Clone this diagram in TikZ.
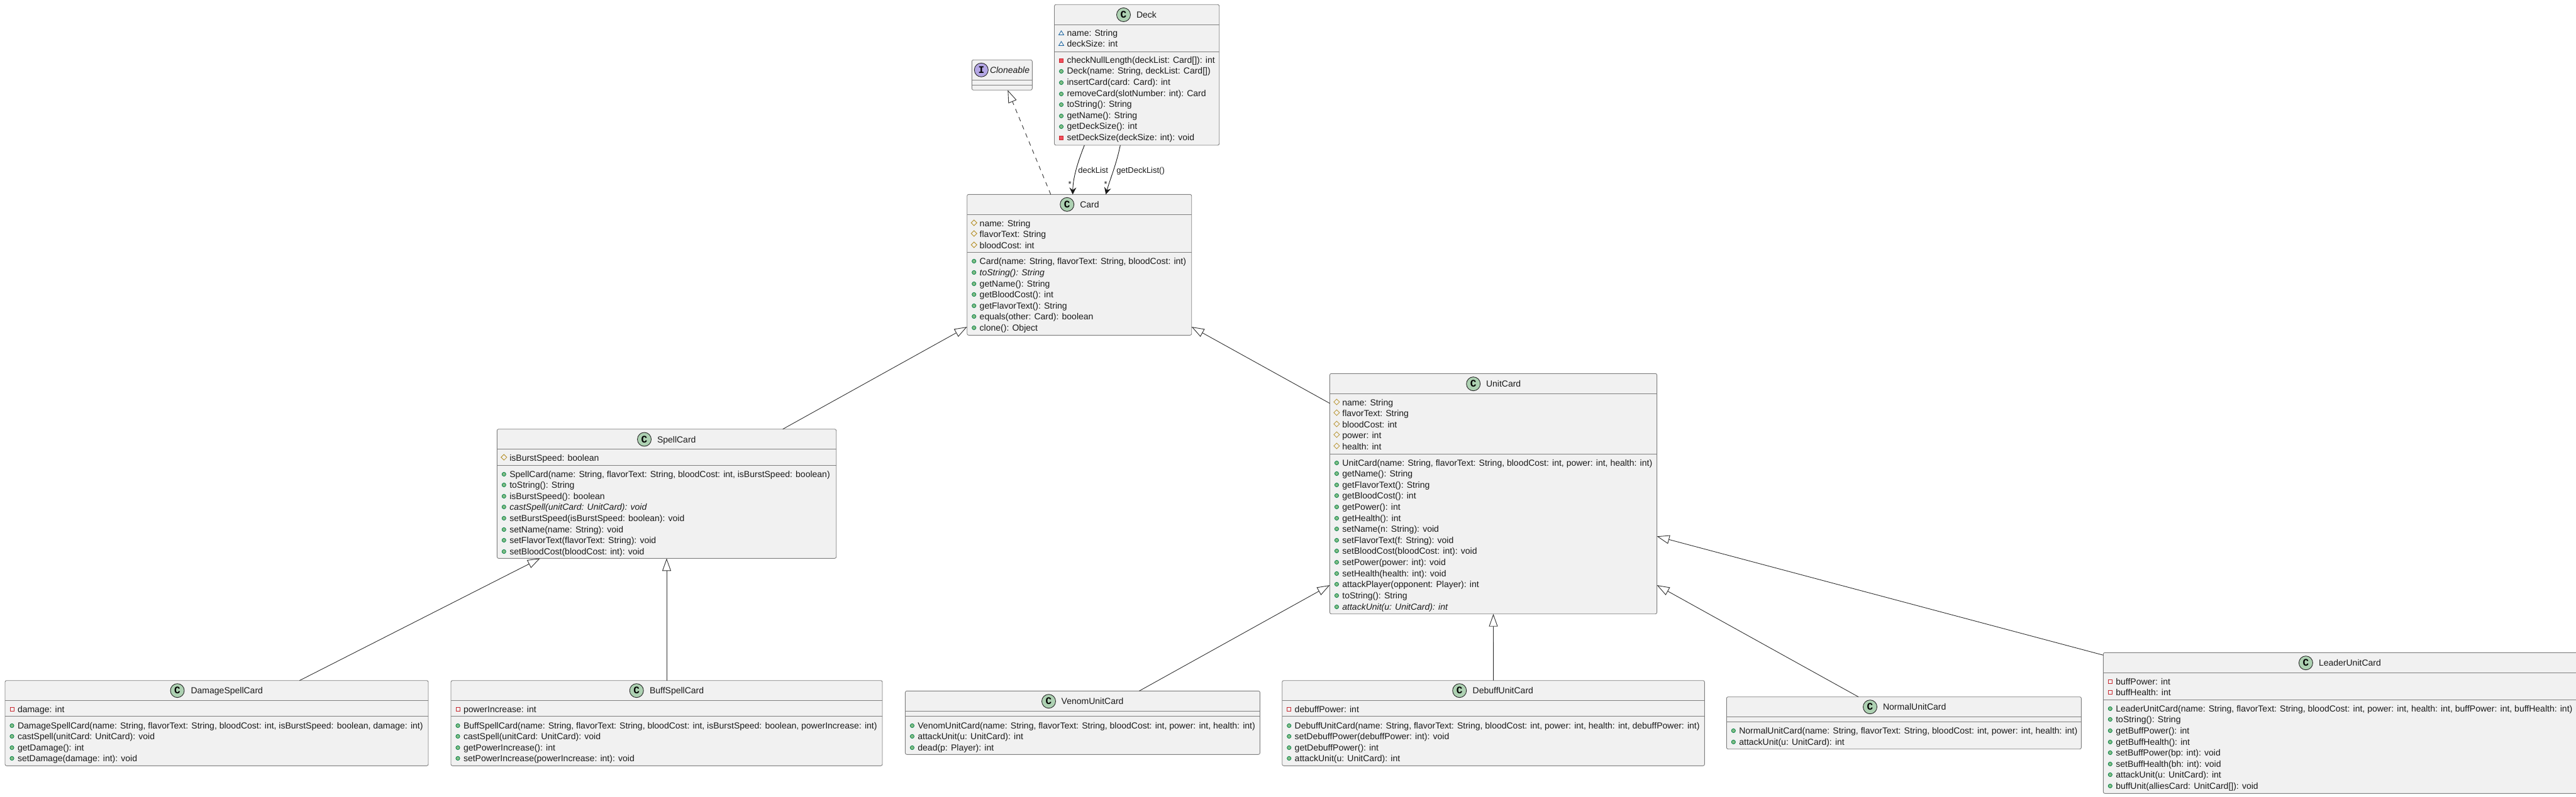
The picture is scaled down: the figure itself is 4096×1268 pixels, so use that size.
\documentclass[tikz,border=0pt]{standalone}
\usepackage{fontspec}
\setmainfont{Liberation Sans}
\setmonofont{Liberation Mono}
\usetikzlibrary{arrows.meta,shapes.geometric}
\definecolor{boxfill}{HTML}{F1F1F1}
\definecolor{boxline}{HTML}{7F7F7F}
\definecolor{wire}{HTML}{303030}
\definecolor{spot}{HTML}{ADD1B2}
\definecolor{ispot}{HTML}{B4A7E5}
\definecolor{pubf}{HTML}{84BE84}
\definecolor{publ}{HTML}{038048}
\definecolor{protl}{HTML}{B38D22}
\definecolor{privl}{HTML}{C82930}
\definecolor{privf}{HTML}{F24D5C}
\definecolor{pkgl}{HTML}{1963A0}
\tikzset{
  x=1pt,y=-1pt,
  classbox/.style={draw=boxline,fill=boxfill,line width=0.9pt,rounded corners=2.5pt,inner sep=0pt,outer sep=0pt},
  sepline/.style={draw=boxline,line width=0.9pt},
  rowtext/.style={anchor=base west,inner sep=0pt,outer sep=0pt,text=black!90,font=\fontsize{14}{14}\selectfont},
  wirelabel/.style={anchor=base west,inner sep=0pt,outer sep=0pt,text=black!90,font=\fontsize{13}{13}\selectfont},
  spotc/.style={draw=black!85,line width=0.9pt,fill=spot},
  extends/.style={draw=wire,line width=0.9pt,-{Triangle[open,fill=white,length=20pt,width=14pt]}},
  realizes/.style={extends,dash pattern=on 7pt off 7pt},
  assoc/.style={draw=black!90,line width=0.9pt,-{Stealth[length=11pt,width=11pt,inset=4pt]}},
}
\newcounter{rowc}
\newcommand{\cbox}[8]{% name,x1,y1,x2,y2,hy,sy,spot colour
  \pgfmathsetmacro{\bw}{#4-#2}\pgfmathsetmacro{\bh}{#5-#3}
  \pgfmathsetmacro{\bx}{(#2+#4)/2}\pgfmathsetmacro{\by}{(#3+#5)/2}
  \node[classbox,minimum width=\bw pt,minimum height=\bh pt] (#1) at (\bx,\by) {};
  \draw[sepline] (#2,#6) -- (#4,#6);
  \draw[sepline] (#2,#7) -- (#4,#7);
  \gdef\curx{#2}}
\newcommand{\ctitle}[4]{% icon x, y, title x, title
  \draw[spotc] (#1,#2) circle (11);
  \stepcounter{rowc}\node[inner sep=0pt,font=\fontsize{16}{16}\selectfont\ttfamily\bfseries] (row\therowc) at (#1,#2) {C};
  \pgfmathsetmacro{\by}{#2+5}
  \stepcounter{rowc}\node[rowtext] (row\therowc) at (#3,\by) {#4};}
\newcommand{\rowt}[2]{% y, text
  \pgfmathsetmacro{\tx}{\curx+20}\pgfmathsetmacro{\by}{#1+5}
  \stepcounter{rowc}\node[rowtext] (row\therowc) at (\tx,\by) {#2};}
\newcommand{\pub}[2]{\pgfmathsetmacro{\ix}{\curx+11}
  \draw[draw=publ,fill=pubf,line width=0.8pt] (\ix,#1+0.5) circle (3.1);\rowt{#1}{#2}}
\newcommand{\prot}[2]{\pgfmathsetmacro{\ix}{\curx+11}
  \draw[draw=protl,line width=0.8pt] (\ix-4.5,#1-0.5) -- (\ix,#1-5) -- (\ix+4.5,#1-0.5) -- (\ix,#1+4) -- cycle;\rowt{#1}{#2}}
\newcommand{\privf}[2]{\pgfmathsetmacro{\ix}{\curx+11}
  \draw[draw=privl,line width=0.8pt] (\ix-3,#1-3) rectangle (\ix+3,#1+3);\rowt{#1}{#2}}
\newcommand{\privm}[2]{\pgfmathsetmacro{\ix}{\curx+11}
  \draw[draw=privl,fill=privf,line width=0.8pt] (\ix-3,#1-3) rectangle (\ix+3,#1+3);\rowt{#1}{#2}}
\newcommand{\pkg}[2]{\pgfmathsetmacro{\ix}{\curx+11}
  \draw[draw=pkgl,line width=0.8pt] (\ix-4,#1+2.5) -- (\ix,#1-4) -- (\ix+4,#1+2.5) -- cycle;\rowt{#1}{#2}}
\begin{document}
\begin{tikzpicture}
\useasboundingbox (0,0) rectangle (4096,1268);
\clip (0,0) rectangle (4096,1268);

% Cloneable
\cbox{cloneable}{1545.3}{95.3}{1641.3}{143.3}{127.3}{135.3}{ispot}
\draw[spotc,fill=ispot] (1560.3,111.3) circle (11);
\node[inner sep=0pt,font=\fontsize{16}{16}\selectfont\ttfamily\bfseries] (cloneI) at (1560.3,111.3) {I};
\node[rowtext,font=\fontsize{14}{14}\selectfont\itshape] (cloneT) at (1574,117) {Cloneable};

% Deck
\cbox{deck}{1676.5}{7.3}{1938.7}{231}{39.5}{82}{spot}
\ctitle{1786.5}{23.5}{1807}{Deck}
\pkg{53}{name: String}
\pkg{70}{deckSize: int}
\privm{96}{checkNullLength(deckList: Card[]): int}
\pub{113}{Deck(name: String, deckList: Card[])}
\pub{131}{insertCard(card: Card): int}
\pub{149}{removeCard(slotNumber: int): Card}
\pub{166}{toString(): String}
\pub{184}{getName(): String}
\pub{201}{getDeckSize(): int}
\privm{219}{setDeckSize(deckSize: int): void}

% Card
\cbox{card}{1537.7}{309.3}{1894.7}{533.3}{341.3}{401.3}{spot}
\ctitle{1696.7}{325.3}{1717.3}{Card}
\prot{355}{name: String}
\prot{372}{flavorText: String}
\prot{390}{bloodCost: int}
\pub{415}{Card(name: String, flavorText: String, bloodCost: int)}
\pub{433}{\itshape toString(): String}
\pub{451}{getName(): String}
\pub{468}{getBloodCost(): int}
\pub{486}{getFlavorText(): String}
\pub{503}{equals(other: Card): boolean}
\pub{521}{clone(): Object}

% SpellCard
\cbox{spell}{790.3}{682.7}{1329.7}{888.3}{714.3}{740.7}{spot}
\ctitle{1024.5}{699}{1045}{SpellCard}
\prot{728}{isBurstSpeed: boolean}
\pub{754}{SpellCard(name: String, flavorText: String, bloodCost: int, isBurstSpeed: boolean)}
\pub{771}{toString(): String}
\pub{789}{isBurstSpeed(): boolean}
\pub{806}{\itshape castSpell(unitCard: UnitCard): void}
\pub{824}{setBurstSpeed(isBurstSpeed: boolean): void}
\pub{842}{setName(name: String): void}
\pub{859}{setFlavorText(flavorText: String): void}
\pub{877}{setBloodCost(bloodCost: int): void}

% UnitCard
\cbox{unit}{2114.4}{594.3}{2634.6}{976.7}{626.3}{722.3}{spot}
\ctitle{2342.7}{610.7}{2363}{UnitCard}
\prot{640}{name: String}
\prot{657}{flavorText: String}
\prot{675}{bloodCost: int}
\prot{692}{power: int}
\prot{710}{health: int}
\pub{736}{UnitCard(name: String, flavorText: String, bloodCost: int, power: int, health: int)}
\pub{753}{getName(): String}
\pub{771}{getFlavorText(): String}
\pub{788}{getBloodCost(): int}
\pub{806}{getPower(): int}
\pub{824}{getHealth(): int}
\pub{841}{setName(n: String): void}
\pub{859}{setFlavorText(f: String): void}
\pub{876}{setBloodCost(bloodCost: int): void}
\pub{894}{setPower(power: int): void}
\pub{912}{setHealth(health: int): void}
\pub{929}{attackPlayer(opponent: Player): int}
\pub{947}{toString(): String}
\pub{965}{\itshape attackUnit(u: UnitCard): int}

% DamageSpellCard
\cbox{damage}{8}{1082.7}{681}{1218.3}{1114.3}{1139.7}{spot}
\ctitle{282}{1098.7}{303.6}{DamageSpellCard}
\privf{1128}{damage: int}
\pub{1154}{DamageSpellCard(name: String, flavorText: String, bloodCost: int, isBurstSpeed: boolean, damage: int)}
\pub{1171}{castSpell(unitCard: UnitCard): void}
\pub{1189}{getDamage(): int}
\pub{1206}{setDamage(damage: int): void}

% BuffSpellCard
\cbox{buff}{717}{1082.7}{1403}{1218.3}{1114.3}{1139.7}{spot}
\ctitle{1012.2}{1098.7}{1033}{BuffSpellCard}
\privf{1128}{powerIncrease: int}
\pub{1154}{BuffSpellCard(name: String, flavorText: String, bloodCost: int, isBurstSpeed: boolean, powerIncrease: int)}
\pub{1171}{castSpell(unitCard: UnitCard): void}
\pub{1189}{getPowerIncrease(): int}
\pub{1206}{setPowerIncrease(powerIncrease: int): void}

% VenomUnitCard
\cbox{venom}{1439.4}{1099.3}{2003.4}{1200.3}{1131.3}{1139.3}{spot}
\ctitle{1667.5}{1115.7}{1687.7}{VenomUnitCard}
\pub{1154}{VenomUnitCard(name: String, flavorText: String, bloodCost: int, power: int, health: int)}
\pub{1171}{attackUnit(u: UnitCard): int}
\pub{1189}{dead(p: Player): int}

% DebuffUnitCard
\cbox{debuff}{2038.7}{1082.7}{2710.4}{1218.3}{1114.3}{1139.7}{spot}
\ctitle{2320.7}{1098.7}{2341.7}{DebuffUnitCard}
\privf{1128}{debuffPower: int}
\pub{1154}{DebuffUnitCard(name: String, flavorText: String, bloodCost: int, power: int, health: int, debuffPower: int)}
\pub{1171}{setDebuffPower(debuffPower: int): void}
\pub{1189}{getDebuffPower(): int}
\pub{1206}{attackUnit(u: UnitCard): int}

% NormalUnitCard
\cbox{normal}{2745.3}{1108.7}{3309.4}{1191.7}{1140.3}{1148.3}{spot}
\ctitle{2973.5}{1124.7}{2994}{NormalUnitCard}
\pub{1162}{NormalUnitCard(name: String, flavorText: String, bloodCost: int, power: int, health: int)}
\pub{1180}{attackUnit(u: UnitCard): int}

% LeaderUnitCard
\cbox{leader}{3344.3}{1038.3}{4104}{1262.3}{1070.3}{1113.3}{spot}
\ctitle{3666.4}{1054.7}{3687}{LeaderUnitCard}
\privf{1084}{buffPower: int}
\privf{1101}{buffHealth: int}
\pub{1127}{LeaderUnitCard(name: String, flavorText: String, bloodCost: int, power: int, health: int, buffPower: int, buffHealth: int)}
\pub{1144}{toString(): String}
\pub{1162}{getBuffPower(): int}
\pub{1180}{getBuffHealth(): int}
\pub{1197}{setBuffPower(bp: int): void}
\pub{1215}{setBuffHealth(bh: int): void}
\pub{1232}{attackUnit(u: UnitCard): int}
\pub{1250}{buffUnit(alliesCard: UnitCard[]): void}

% connectors
\draw[realizes] ([xshift=-45.5pt]card.north) -- ([xshift=9pt]cloneable.south);
\draw[assoc] ([xshift=-83.3pt]deck.south) .. controls (1712,262) and (1706,285) .. ([xshift=-10.5pt]card.north);
\draw[assoc] ([xshift=-26.3pt]deck.south) .. controls (1775,262) and (1765,285) .. ([xshift=42.1pt]card.north);
\node[wirelabel] (lblA) at (1714.3,275) {deckList};
\node[wirelabel] (lblB) at (1775.3,275) {getDeckList()};
\node[wirelabel] (starA) at (1698.5,297) {*};
\node[wirelabel] (starB) at (1755.5,297) {*};
\draw[extends] ([xshift=184.7pt]spell.north) -- ([yshift=-98.7pt]card.west);
\draw[extends] ([yshift=143.8pt]unit.west) -- ([yshift=-98.7pt]card.east);
\draw[extends] ([xshift=131.8pt]damage.north) -- ([xshift=-201.2pt]spell.south);
\draw[extends] (buff.north) -- (spell.south);
\draw[extends] ([xshift=90pt]venom.north) -- ([yshift=-145.5pt]unit.west);
\draw[extends] (debuff.north) -- (unit.south);
\draw[extends] ([xshift=-72.35pt]normal.north) -- ([yshift=-145.5pt]unit.east);
\draw[extends] ([yshift=108pt]leader.west) -- ([yshift=-67.8pt]unit.east);
\end{tikzpicture}
\end{document}
